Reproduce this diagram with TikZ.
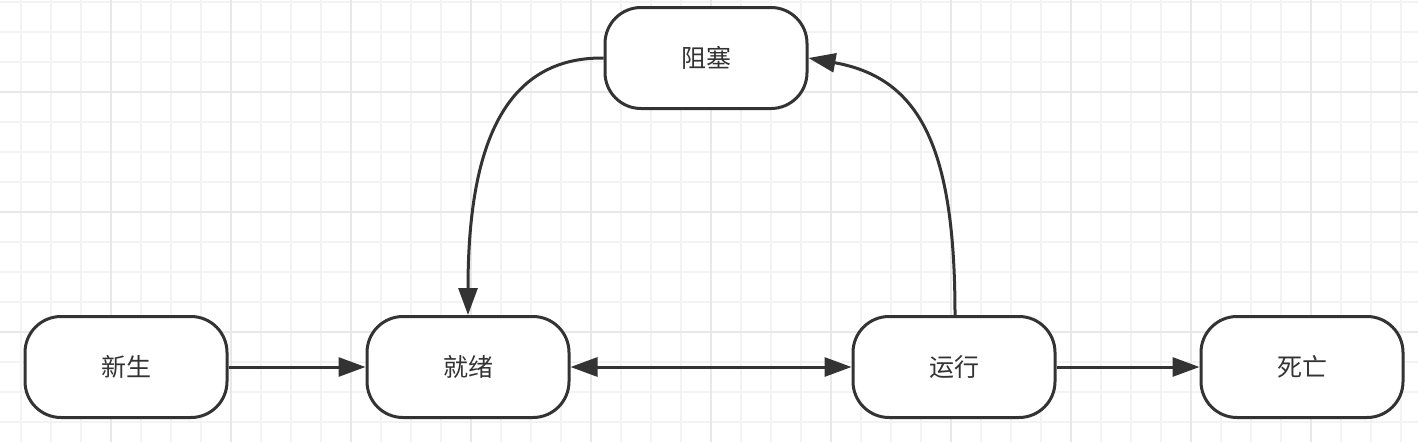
\documentclass[tikz,border=0pt]{standalone}
\usepackage{fontspec}
\newfontfamily\cjk{Noto Sans CJK SC}
\usetikzlibrary{arrows.meta}
\definecolor{ink}{HTML}{333333}
\definecolor{gridminor}{HTML}{F3F3F3}
\definecolor{gridmajor}{HTML}{E8E8E8}
\begin{document}
\begin{tikzpicture}[x=1pt,y=-1pt,
  state/.style={draw=ink, line width=3pt, fill=white, rounded corners=36pt,
    minimum width=202pt, minimum height=101pt, inner sep=0pt,
    font=\cjk\fontsize{25}{28}\selectfont, text=ink},
  conn/.style={draw=ink, line width=3pt, -{Triangle[length=27pt,width=19pt]}},
  dconn/.style={draw=ink, line width=3pt, {Triangle[length=27pt,width=19pt]}-{Triangle[length=27pt,width=19pt]}}]
\useasboundingbox (0,0) rectangle (1418,442);
\fill[white] (0,0) rectangle (1418,442);
% grid
\foreach \k in {0,...,46} {\draw[gridminor, line width=1.6pt] (21+30*\k,0) -- (21+30*\k,442);}
\foreach \k in {0,...,14} {\draw[gridminor, line width=1.6pt] (0,2+30*\k) -- (1418,2+30*\k);}
\foreach \k in {0,...,10} {\draw[gridmajor, line width=1.6pt] (111+120*\k,0) -- (111+120*\k,442);}
\foreach \k in {0,...,2} {\draw[gridmajor, line width=1.6pt] (0,92+120*\k) -- (1418,92+120*\k);}
% nodes
\node[state] (xs) at (126,367) {新生};
\node[state] (jx) at (468,367) {就绪};
\node[state] (yx) at (954,367) {运行};
\node[state] (sw) at (1302,367) {死亡};
\node[state] (zs) at (706,58) {阻塞};
% connectors
\draw[conn] (xs.east) -- (jx.west);
\draw[dconn] (jx.east) -- (yx.west);
\draw[conn] (yx.east) -- (sw.west);
\coordinate (zsl) at (zs.west);
\coordinate (jxt) at (jx.north);
\draw[conn] (zsl) .. controls (505,57) and (468,144) .. (jxt);
\coordinate (yxt) at ([xshift=1pt]yx.north);
\draw[conn] (yxt) .. controls (955,147) and (920,78) .. (zs.east);
\end{tikzpicture}
\end{document}
